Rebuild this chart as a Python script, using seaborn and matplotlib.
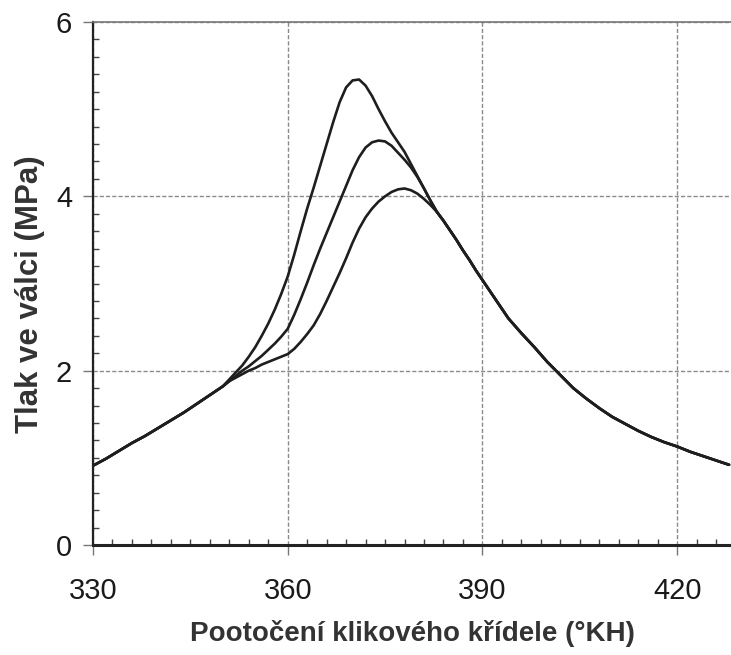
import numpy as np
import pandas as pd
import matplotlib
matplotlib.use("Agg")
import matplotlib.pyplot as plt
from matplotlib.ticker import MultipleLocator
import seaborn as sns

# crank angle (deg) and cylinder pressure (MPa) for three runs
angle = [330, 332, 334, 336, 338, 340, 342, 344, 346, 348, 350,
         351, 352, 353, 354, 355, 356, 357, 358, 359, 360,
         361, 362, 363, 364, 365, 366, 367, 368, 369, 370,
         371, 372, 373, 374, 375, 376, 377, 378, 379, 380,
         381, 382, 383, 384, 385, 386, 387, 388, 389, 390,
         392, 394, 396, 398, 400, 402, 404, 406, 408, 410,
         412, 414, 416, 418, 420, 422, 424, 426, 428]

p_high = [0.91, 0.99, 1.08, 1.17, 1.25, 1.34, 1.43, 1.52, 1.62, 1.72, 1.82,
          1.90, 1.98, 2.06, 2.16, 2.27, 2.40, 2.54, 2.70, 2.88, 3.08,
          3.33, 3.60, 3.86, 4.10, 4.35, 4.60, 4.85, 5.08, 5.25, 5.33,
          5.34, 5.27, 5.15, 5.00, 4.86, 4.73, 4.62, 4.51, 4.37, 4.23,
          4.09, 3.95, 3.82, 3.72, 3.61, 3.50, 3.38, 3.27, 3.15, 3.04,
          2.82, 2.60, 2.43, 2.27, 2.10, 1.95, 1.80, 1.68, 1.57, 1.47,
          1.39, 1.31, 1.24, 1.18, 1.13, 1.07, 1.02, 0.97, 0.92]

p_mid = [0.91, 0.99, 1.08, 1.17, 1.25, 1.34, 1.43, 1.52, 1.62, 1.72, 1.82,
         1.88, 1.94, 2.00, 2.05, 2.11, 2.17, 2.24, 2.31, 2.39, 2.48,
         2.64, 2.82, 3.01, 3.21, 3.40, 3.58, 3.76, 3.94, 4.12, 4.30,
         4.45, 4.56, 4.62, 4.64, 4.63, 4.58, 4.50, 4.42, 4.33, 4.22,
         4.09, 3.95, 3.82, 3.72, 3.61, 3.50, 3.38, 3.27, 3.15, 3.04,
         2.82, 2.60, 2.43, 2.27, 2.10, 1.95, 1.80, 1.68, 1.57, 1.47,
         1.39, 1.31, 1.24, 1.18, 1.13, 1.07, 1.02, 0.97, 0.92]

p_low = [0.91, 0.99, 1.08, 1.17, 1.25, 1.34, 1.43, 1.52, 1.62, 1.72, 1.82,
         1.88, 1.92, 1.96, 2.00, 2.03, 2.07, 2.10, 2.13, 2.16, 2.19,
         2.25, 2.33, 2.42, 2.52, 2.65, 2.80, 2.96, 3.12, 3.29, 3.47,
         3.63, 3.76, 3.86, 3.94, 4.00, 4.05, 4.08, 4.09, 4.07, 4.03,
         3.97, 3.90, 3.82, 3.72, 3.61, 3.50, 3.38, 3.27, 3.15, 3.04,
         2.82, 2.60, 2.43, 2.27, 2.10, 1.95, 1.80, 1.68, 1.57, 1.47,
         1.39, 1.31, 1.24, 1.18, 1.13, 1.07, 1.02, 0.97, 0.92]

x_ticks = [330, 360, 390, 420]
y_ticks = [0, 2, 4, 6]
x_label = "Pootočení klikového křídele (°KH)"
y_label = "Tlak ve válci (MPa)"

df = pd.concat([
    pd.DataFrame({"angle": angle, "p": p_high, "run": "A"}),
    pd.DataFrame({"angle": angle, "p": p_mid, "run": "B"}),
    pd.DataFrame({"angle": angle, "p": p_low, "run": "C"}),
], ignore_index=True)

sns.set_theme(style="white")
plt.rcParams["font.family"] = ["Liberation Sans", "DejaVu Sans"]

fig = plt.figure(figsize=(7.31, 6.55), dpi=100)
ax = fig.add_axes([93 / 731, 1 - 545 / 655, 1 - 93 / 731, (545 - 22) / 655])

sns.lineplot(data=df, x="angle", y="p", hue="run",
             palette=["#1e1e1e", "#1e1e1e", "#1e1e1e"],
             estimator=None, sort=False, linewidth=1.9, legend=False, ax=ax)

ax.set_xlim(330, 428.3)
ax.set_ylim(0, 6)
ax.set_xticks(x_ticks)
ax.set_yticks(y_ticks)
ax.xaxis.set_minor_locator(MultipleLocator(3))
ax.yaxis.set_minor_locator(MultipleLocator(0.2))

ax.grid(True, which="major", color="#8a8a8a", linestyle=(0, (3, 1.5)), linewidth=1.0)
ax.set_axisbelow(True)

ax.tick_params(axis="both", which="major", direction="out", length=7, width=1,
               color="#777777", labelsize=21, labelcolor="#1a1a1a")
ax.tick_params(axis="x", which="major", pad=16)
ax.tick_params(axis="y", which="major", pad=8)
ax.tick_params(axis="both", which="minor", direction="in", length=4, width=1,
               color="#444444")
ax.tick_params(which="both", bottom=True, left=True, top=False, right=False)

for side in ["left", "bottom"]:
    ax.spines[side].set_color("#222222")
ax.spines["left"].set_linewidth(1.6)
ax.spines["bottom"].set_linewidth(2.2)
ax.spines["top"].set_color("#777777")
ax.spines["top"].set_linestyle((0, (1, 1)))
ax.spines["top"].set_linewidth(1.2)
ax.spines["right"].set_visible(False)

ax.set_xlabel(x_label, fontsize=20, fontweight="bold", color="#333333", labelpad=11)
ax.set_ylabel(y_label, fontsize=22.5, fontweight="bold", color="#333333", labelpad=8)
ax.yaxis.label.set_y(0.48)

fig.savefig("out.png", dpi=100)
